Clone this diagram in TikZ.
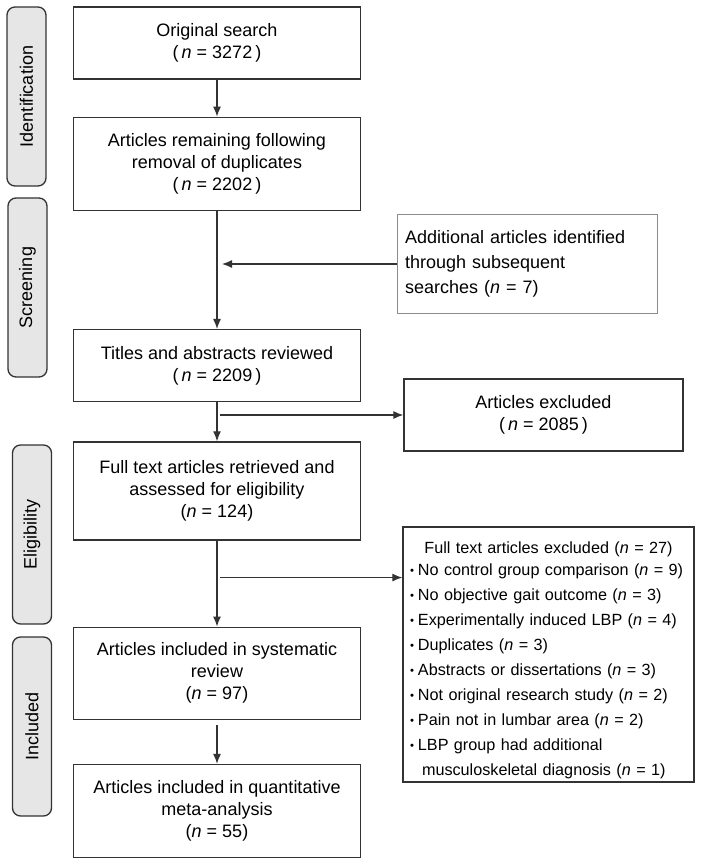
\documentclass[tikz,border=0pt]{standalone}
\usepackage{fontspec}
\setmainfont{Liberation Sans}
\usetikzlibrary{positioning}
\usetikzlibrary{calc}
\usetikzlibrary{arrows.meta}
\definecolor{darkline}{RGB}{51, 51, 51}
\definecolor{stagegray}{RGB}{230, 230, 230}
\definecolor{softgray}{RGB}{140, 140, 140}
\newcommand{\bul}{\raisebox{0.1em}{\scalebox{0.7}{\textbullet}}\hspace{4pt}}

\begin{document}
\begin{tikzpicture}[
    x=1pt, y=-1pt,
    >={Latex[length=10pt,width=8pt]},
    font=\fontsize{18}{22}\selectfont,
    % node styles
    box/.style = {
      draw=darkline,
      line width=1.3pt,
      minimum width=287pt,
      inner sep=0pt,
      align=center
    },
    stage/.style = {
      draw=darkline,
      fill=stagegray,
      rounded corners=8pt,
      line width=1.3pt,
      minimum width=179pt,
      minimum height=39pt,
      inner sep=0pt,
      rotate=90
    },
    % arrow styles
    arr/.style = {->, line width=1.2pt, draw=darkline}
  ]
  \useasboundingbox (0,0) rectangle (701,858);

  % --- Stages
  \node[stage] (ident) at (26.5,96.5) {Identification};
  \node[stage] (screen) at (27.5,287.5) {Screening};
  \node[stage] (elig) at (32,534.5) {Eligibility};
  \node[stage] (incl) at (32,726.5) {Included};

  % --- Nodes
  \node[box, minimum height=72pt] (orig) at (217,43)
    {Original search\\(\,\textit{n} = 3272\,)};

  \node[box, minimum height=93pt, below=37pt of orig] (dedup)
    {Articles remaining following\\removal of duplicates\\(\,\textit{n} = 2202\,)};

  \node[box, minimum height=72pt, below=118pt of dedup] (titles)
    {Titles and abstracts reviewed\\(\,\textit{n} = 2209\,)};

  \node[box, minimum height=98pt, below=39pt of titles] (full)
    {Full text articles retrieved and\\assessed for eligibility\\(\textit{n} = 124)};

  \node[box, minimum height=92pt, below=86pt of full] (sysrev)
    {Articles included in systematic\\review\\(\textit{n} = 97)};

  \node[box, minimum height=93pt, below=44pt of sysrev] (meta)
    {Articles included in quantitative\\meta-analysis\\(\textit{n} = 55)};

  \node[box, draw=softgray, line width=1pt, minimum width=260pt, minimum height=98pt,
    text width=244pt, align=left, font=\fontsize{18}{25}\selectfont] (addl) at (527,264)
    {Additional articles identified\\through subsequent\\searches (\textit{n} = 7)};

  \node[box, minimum width=279pt, minimum height=72pt] (excl) at (543.5,415)
    {Articles excluded\\(\,\textit{n} = 2085\,)};

  \node[box, minimum width=291pt, minimum height=255pt, text width=277pt,
    align=left, font=\fontsize{16.2}{25}\selectfont] (exclfull) at (548.5,654.5)
    {\makebox[\linewidth]{\rule{0pt}{24pt}Full text articles excluded (\textit{n} = 27)}\\[-3pt]
     \bul No control group comparison (\textit{n} = 9)\\
     \bul No objective gait outcome (\textit{n} = 3)\\
     \bul Experimentally induced LBP (\textit{n} = 4)\\
     \bul Duplicates (\textit{n} = 3)\\
     \bul Abstracts or dissertations (\textit{n} = 3)\\
     \bul Not original research study (\textit{n} = 2)\\
     \bul Pain not in lumbar area (\textit{n} = 2)\\
     \bul LBP group had additional\\
     \hspace*{12pt}musculoskeletal diagnosis (\textit{n} = 1)};

  % --- Arrows
  \draw[arr] (orig) -- (dedup);
  \draw[arr] (dedup) -- (titles);
  \draw[arr] (titles) -- (full);
  \draw[arr] (full) -- (sysrev);
  \draw[arr] ([yshift=-5pt]sysrev.south) -- (meta);

  \draw[arr] (addl.west) -- ([xshift=5pt]addl.west -| dedup.south);
  \draw[arr] ([xshift=3pt]excl.west -| titles.south) -- (excl.west);
  \coordinate (fullbranch) at ([xshift=3pt,yshift=-37pt]full.south);
  \draw[arr] (fullbranch) -- (fullbranch -| exclfull.west);

\end{tikzpicture}
\end{document}
